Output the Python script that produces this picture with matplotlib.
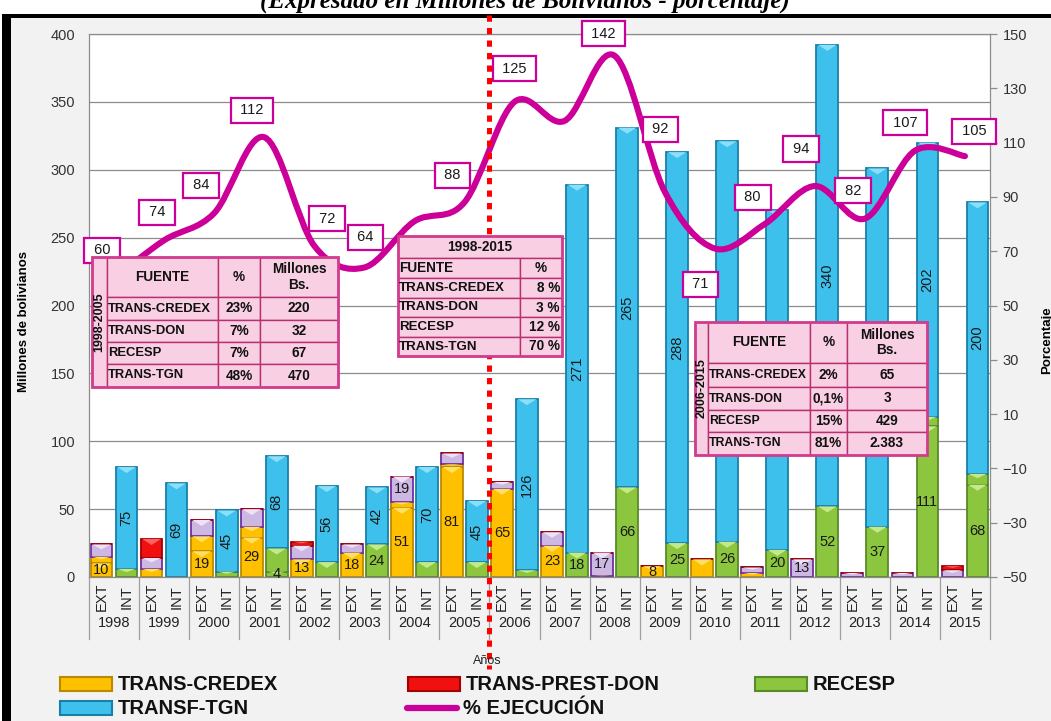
import numpy as np
import matplotlib
matplotlib.use("Agg")
import matplotlib.pyplot as plt
from matplotlib.patches import Rectangle, PathPatch, Polygon
from matplotlib.path import Path
from matplotlib.lines import Line2D

plt.rcParams['font.family'] = ['Liberation Sans', 'DejaVu Sans']

W, H = 1051, 721

# ---------------- data ----------------
years = [str(y) for y in range(1998, 2016)]
sub_labels = ['EXT', 'INT']

# EXT bars, bottom to top
credex_a = [10, 0, 19, 29, 13, 18, 51, 81, 65, 23, 0, 8, 0, 0, 0, 0, 0, 0]
credex_b = [5, 6, 11, 8, 0, 0, 4, 2, 0, 0, 1, 0, 13, 3, 0, 0, 0, 0]
otros = [9, 8, 12, 13, 10, 6, 19, 8, 5, 10, 17, 0, 0, 4, 13, 3, 3, 5]
prest_don = [0, 14, 0, 0, 3, 0, 0, 0, 0, 0, 0, 0, 0, 0, 0, 0, 0, 3]
otros_shown = [False] * 6 + [True, False, False, False, True, False,
                             False, False, True, False, False, False]

# INT bars, bottom to top
recesp_a = [0, 0, 0, 4, 0, 24, 0, 0, 0, 18, 66, 25, 26, 20, 52, 37, 111, 68]
recesp_b = [6, 0, 4, 17, 11, 0, 11, 11, 5, 0, 0, 0, 0, 0, 0, 0, 7, 8]
tgn = [75, 69, 45, 68, 56, 42, 70, 45, 126, 271, 265, 288, 295, 250, 340, 264, 202, 200]

# % ejecucion
ejec = [60, 74, 84, 112, 72, 64, 81, 88, 125, 118, 142, 92, 71, 80, 94, 82, 107, 105]
ejec_shown = [True] * 6 + [False, True, True, False] + [True] * 8
# label offsets in pixels (dx, dy)
ejec_off = [(-12, 28), (-7, 28), (-13, 28), (-12, 27), (13, 27), (1, 30), (0, 0),
            (-12, 27), (0, 33), (0, 0), (-11, 22), (-4, 62), (-14, -36), (-12, 27),
            (-14, 37), (-12, 28), (-10, 28), (9, 25)]

t1_period = '1998-2005'
t1_fuente = ['TRANS-CREDEX', 'TRANS-DON', 'RECESP', 'TRANS-TGN']
t1_pct = ['23%', '7%', '7%', '48%']
t1_mill = ['220', '32', '67', '470']

t2_period = '1998-2015'
t2_pct = ['8 %', '3 %', '12 %', '70 %']

t3_period = '2006-2015'
t3_pct = ['2%', '0,1%', '15%', '81%']
t3_mill = ['65', '3', '429', '2.383']

# ---------------- colours ----------------
YEL, YEL_D, YEL_L = '#FFC000', '#B98A00', '#FFE066'
RED, RED_D, RED_L = '#F01010', '#A00000', '#FF6060'
GRN, GRN_D, GRN_L = '#8CC63F', '#5A8A28', '#C2EA8A'
BLU, BLU_D, BLU_L = '#3DC0EC', '#1A7FA8', '#8ADFFA'
PUR, PUR_D, PUR_L = '#CDB8E4', '#7030A0', '#EDE2F7'
MAG = '#CC0099'
PINK, PINK_E = '#F9CFE3', '#B8306F'


def fx(x):
    return x / W


def fy(y):
    return 1 - y / H


fig = plt.figure(figsize=(W / 100, H / 100), dpi=100)
fig.patch.set_facecolor('white')
fig.add_artist(Rectangle((fx(10), 0), 1 - fx(10), fy(17), fc='#F2F2F2', ec='none', zorder=-10))
fig.add_artist(Rectangle((fx(2), 0), fx(11) - fx(2), fy(14), fc='black', ec='none', zorder=-9))
fig.add_artist(Rectangle((fx(2), fy(18)), 1, fy(14) - fy(18), fc='black', ec='none', zorder=-9))

fig.text(fx(525), fy(8), '(Expresado en Millones de Bolivianos - porcentaje)',
         family=['Liberation Serif', 'DejaVu Serif'], style='italic', weight='bold',
         fontsize=18, ha='center', va='baseline')

ax = fig.add_axes([fx(89), fy(577), fx(990) - fx(89), fy(34) - fy(577)])
ax.set_facecolor('white')
ax.set_xlim(-0.5, 35.5)
ax.set_ylim(0, 400)
ax.set_yticks(range(0, 401, 50))
ax.set_xticks([])
ax.tick_params(axis='y', length=0, pad=10, labelsize=10.5, labelcolor='#333333')
ax.yaxis.grid(True, color='#8C8C8C', lw=0.9)
ax.set_axisbelow(True)
for s in ax.spines.values():
    s.set_color('#8C8C8C')
    s.set_linewidth(0.9)

ext_x = np.arange(18) * 2
int_x = ext_x + 1
BW = 0.87
px_per_unit = (577 - 34) / 400.0


def draw_stack(xs, series, bottoms):
    for vals, (c, cd, cl), labs, rot in series:
        vals = np.asarray(vals, dtype=float)
        ax.bar(xs, vals, BW, bottom=bottoms, color=c, edgecolor=cd, lw=1.3, zorder=2)
        for x, v, b, lab in zip(xs, vals, bottoms, labs):
            if v <= 0:
                continue
            # bevel triangle at the top of each segment
            th = min(6.0 / px_per_unit, v * 0.4)
            tri = Polygon([(x - BW / 2 + 0.06, b + v), (x + BW / 2 - 0.06, b + v), (x, b + v - th)],
                          closed=True, fc=cl, ec='none', zorder=2.5)
            ax.add_patch(tri)
            if lab:
                ax.text(x, b + v / 2, lab, ha='center', va='center', rotation=rot,
                        fontsize=10.5, color='#1a1a1a', zorder=4)
        bottoms = bottoms + vals
    return bottoms


def labs_of(vals, shown=None):
    out = []
    for i, v in enumerate(vals):
        ok = v > 0 if shown is None else shown[i]
        out.append(str(v) if ok else '')
    return out


b = np.zeros(18)
draw_stack(ext_x, [
    (credex_a, (YEL, YEL_D, YEL_L), labs_of(credex_a), 0),
    (credex_b, (YEL, YEL_D, YEL_L), [''] * 18, 0),
    (otros, (PUR, PUR_D, PUR_L), labs_of(otros, otros_shown), 0),
    (prest_don, (RED, RED_D, RED_L), [''] * 18, 0),
], b)
b = np.zeros(18)
draw_stack(int_x, [
    (recesp_a, (GRN, GRN_D, GRN_L), labs_of(recesp_a), 0),
    (recesp_b, (GRN, GRN_D, GRN_L), [''] * 18, 0),
    (tgn, (BLU, BLU_D, BLU_L), labs_of(tgn), 90),
], b)

# category axis
xt = ax.get_xaxis_transform()
for i in range(18):
    ax.text(ext_x[i], -0.037, sub_labels[0], rotation=90, ha='center', va='center',
            fontsize=10.5, color='#222222', transform=xt)
    ax.text(int_x[i], -0.037, sub_labels[1], rotation=90, ha='center', va='center',
            fontsize=10.5, color='#222222', transform=xt)
    ax.text(ext_x[i] + 0.5, -0.085, years[i], ha='center', va='center',
            fontsize=10.5, color='#222222', transform=xt)
for k in range(19):
    ax.plot([2 * k - 0.5, 2 * k - 0.5], [0, -0.115], color='#A0A0A0', lw=0.9,
            transform=xt, clip_on=False)

# secondary axis: % ejecucion
ax2 = ax.twinx()
ax2.set_ylim(-50, 150)
ax2.set_yticks(range(-50, 151, 20))
ax2.tick_params(axis='y', length=5, width=0.9, color='#8C8C8C', pad=4,
                labelsize=10.5, labelcolor='#333333')
for s in ax2.spines.values():
    s.set_visible(False)

lx = ext_x + 0.5
pts = np.column_stack([lx, ejec]).astype(float)
verts = [pts[0]]
codes = [Path.MOVETO]
n = len(pts)
for i in range(n - 1):
    p0 = pts[i - 1] if i > 0 else pts[i]
    p1, p2 = pts[i], pts[i + 1]
    p3 = pts[i + 2] if i + 2 < n else pts[i + 1]
    verts += [p1 + (p2 - p0) / 6, p2 - (p3 - p1) / 6, p2]
    codes += [Path.CURVE4] * 3
ax2.add_patch(PathPatch(Path(verts, codes), fill=False, edgecolor=MAG, lw=4.4,
                        capstyle='round', joinstyle='round', zorder=3))

for x, v, ok, off in zip(lx, ejec, ejec_shown, ejec_off):
    if not ok:
        continue
    ax2.annotate(' %d ' % v, (x, v), xytext=off, textcoords='offset pixels',
                 ha='center', va='center', fontsize=10.5, color='#1a1a1a', zorder=5,
                 bbox=dict(boxstyle='square,pad=0.38', fc='white', ec=MAG, lw=1.6))

# dividing line 2005 / 2006
ax2.plot([15.5, 15.5], [1.035, -0.17], color='#FF0000', lw=3.6,
         linestyle=(0, (1.25, 1.25)), transform=ax2.get_xaxis_transform(),
         clip_on=False, zorder=6, solid_capstyle='butt', dash_capstyle='butt')

fig.text(fx(24), fy(322), 'Millones de bolivianos', rotation=90, ha='center', va='center',
         fontsize=9.5, weight='bold')
fig.text(fx(1047), fy(340), 'Porcentaje', rotation=90, ha='center', va='center',
         fontsize=9.5, weight='bold')
fig.text(fx(487), fy(661), 'Años', ha='center', va='center', fontsize=9, color='#222222')


# ---------------- tables ----------------
def cell(x0, y0, x1, y1, text='', ha='center', rot=0, size=9.8):
    fig.add_artist(Rectangle((fx(x0), fy(y1)), fx(x1) - fx(x0), fy(y0) - fy(y1),
                             fc=PINK, ec=PINK_E, lw=1.0, zorder=7))
    if text:
        if ha == 'center':
            tx = (x0 + x1) / 2
        elif ha == 'left':
            tx = x0 + 1
        else:
            tx = x1 - 2
        fig.text(fx(tx), fy((y0 + y1) / 2), text, ha=ha, va='center', rotation=rot,
                 fontsize=size, weight='bold', color='#111111', zorder=8,
                 linespacing=1.15)


def frame(x0, y0, x1, y1):
    fig.add_artist(Rectangle((fx(x0), fy(y1)), fx(x1) - fx(x0), fy(y0) - fy(y1),
                             fill=False, ec='#D23C8E', lw=2.0, zorder=8))


# 1998-2005
cx = [92, 107, 218, 260, 338]
ry = [257, 297, 320, 342, 364, 387]
cell(cx[0], ry[0], cx[1], ry[-1], t1_period, rot=90, size=9)
cell(cx[1], ry[0], cx[2], ry[1], 'FUENTE')
cell(cx[2], ry[0], cx[3], ry[1], '%')
cell(cx[3], ry[0], cx[4], ry[1], 'Millones\nBs.')
for i in range(4):
    cell(cx[1], ry[i + 1], cx[2], ry[i + 2], t1_fuente[i], ha='left', size=9.4)
    cell(cx[2], ry[i + 1], cx[3], ry[i + 2], t1_pct[i])
    cell(cx[3], ry[i + 1], cx[4], ry[i + 2], t1_mill[i])
frame(cx[0], ry[0], cx[-1], ry[-1])

# 1998-2015
cx = [398, 520, 562]
ry = [236, 258, 278, 298, 317, 337, 356]
cell(cx[0], ry[0], cx[2], ry[1], t2_period)
cell(cx[0], ry[1], cx[1], ry[2], 'FUENTE', ha='left')
cell(cx[1], ry[1], cx[2], ry[2], '%')
for i in range(4):
    cell(cx[0], ry[i + 2], cx[1], ry[i + 3], t1_fuente[i], ha='left', size=9.6)
    cell(cx[1], ry[i + 2], cx[2], ry[i + 3], t2_pct[i], ha='right')
frame(cx[0], ry[0], cx[-1], ry[-1])

# 2006-2015
cx = [695, 708, 810, 847, 927]
ry = [322, 363, 387, 410, 432, 455]
cell(cx[0], ry[0], cx[1], ry[-1], t3_period, rot=90, size=9)
cell(cx[1], ry[0], cx[2], ry[1], 'FUENTE')
cell(cx[2], ry[0], cx[3], ry[1], '%')
cell(cx[3], ry[0], cx[4], ry[1], 'Millones\nBs.')
for i in range(4):
    cell(cx[1], ry[i + 1], cx[2], ry[i + 2], t1_fuente[i], ha='left', size=8.8)
    cell(cx[2], ry[i + 1], cx[3], ry[i + 2], t3_pct[i])
    cell(cx[3], ry[i + 1], cx[4], ry[i + 2], t3_mill[i])
frame(cx[0], ry[0], cx[-1], ry[-1])

# ---------------- legend ----------------
leg_items = [(60, 684, (YEL, YEL_D), 'TRANS-CREDEX'),
             (408, 684, (RED, RED_D), 'TRANS-PREST-DON'),
             (755, 684, (GRN, GRN_D), 'RECESP'),
             (60, 708, (BLU, BLU_D), 'TRANSF-TGN'),
             (405, 708, None, '% EJECUCIÓN')]
for x, y, col, txt in leg_items:
    if col is None:
        fig.add_artist(Line2D([fx(x + 2), fx(x + 52)], [fy(y), fy(y)], color=MAG, lw=4.5,
                              solid_capstyle='round'))
    else:
        fig.add_artist(Rectangle((fx(x), fy(y + 7)), fx(52), 14 / H, fc=col[0], ec=col[1], lw=1.5))
    fig.text(fx(x + 58), fy(y), txt, ha='left', va='center', fontsize=14.5, weight='bold',
             color='#111111')

fig.savefig('out.png', dpi=100)
